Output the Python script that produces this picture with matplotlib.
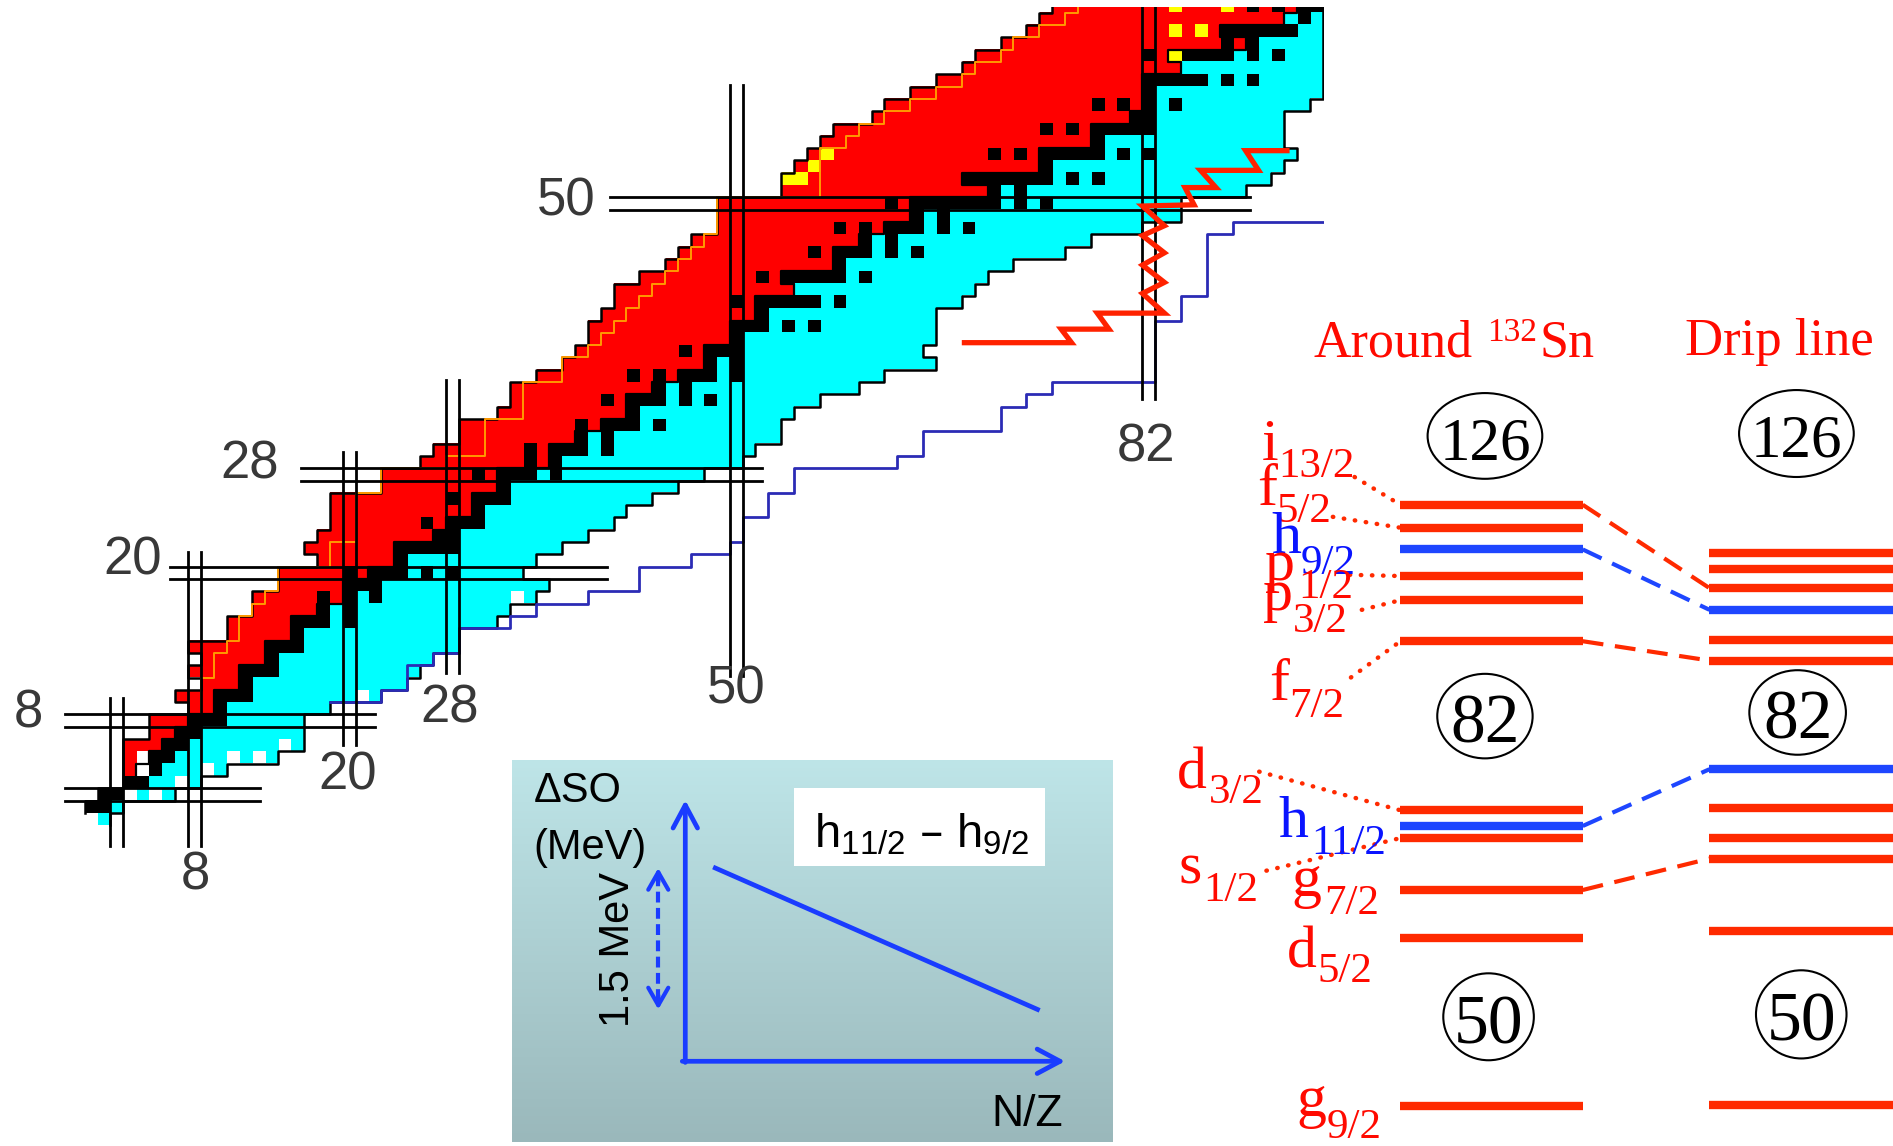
import numpy as np
import matplotlib
matplotlib.use("Agg")
import matplotlib.pyplot as plt
from matplotlib import font_manager
from matplotlib.colors import LinearSegmentedColormap, to_rgb
from matplotlib.patches import Ellipse, Rectangle

# ---------------- chart of nuclides, one entry per Z = 0..66 ----------------
n_first = [1, 0, 1, 3, 3, 3, 3, 5, 5, 8, 7, 9, 8, 9, 8, 11, 11, 13, 13, 15,
           15, 18, 17, 18, 19, 19, 19, 23, 23, 26, 27, 29, 29, 32, 33, 33, 35, 37, 38, 39,
           39, 40, 41, 41, 43, 45, 46, 47, 49, 49, 49, 54, 54, 55, 56, 57, 58, 61, 62, 64,
           66, 68, 69, 71, 73, 74, 75]
n_last = [1, 2, 6, 8, 10, 14, 16, 16, 16, 18, 22, 24, 25, 26, 28, 28, 31, 32, 34, 35,
          33, 34, 36, 38, 40, 41, 43, 45, 47, 50, 51, 53, 53, 54, 56, 59, 61, 65, 64, 65,
          65, 65, 67, 68, 69, 71, 75, 77, 81, 84, 84, 89, 91, 92, 93, 92, 92, 92, 94, 95,
          95, 95, 95, 95, 95, 95, 95]
red_last = [-1, -1, -1, 2, 3, 4, 5, 6, 7, 9, 9, 11, 11, 13, 13, 15, 15, 17, 19, 19,
            21, 23, 23, 26, 27, 29, 29, 31, 31, 35, 35, 37, 39, 41, 41, 43, 45, 47, 47, 49,
            49, 51, 51, 54, 53, 57, 57, 59, 61, 63, 63, 69, 67, 73, 73, 77, 77, 80, 81, 81,
            81, 84, 83, 89, 87, 92, 93]
stable_n = [[], [0, 1], [1, 2], [3, 4], [5], [5, 6], [6, 7], [7, 8], [8, 9, 10], [10],
            [10, 11, 12], [12], [12, 13, 14], [14], [14, 15, 16], [16], [16, 17, 18, 20],
            [18, 20], [18, 20, 22], [20, 21, 22], [20, 22, 23, 24, 26, 28], [24],
            [24, 25, 26, 27, 28], [27, 28], [26, 28, 29, 30], [30], [28, 30, 31, 32], [32],
            [30, 32, 33, 34, 36], [34, 36], [34, 36, 37, 38, 40], [38, 40],
            [38, 40, 41, 42, 44], [42], [40, 42, 43, 44, 46, 48], [44, 46],
            [42, 44, 46, 47, 48, 50], [48, 50], [46, 48, 49, 50], [50],
            [50, 51, 52, 54, 56], [52], [50, 52, 53, 54, 55, 56, 58], [],
            [52, 54, 55, 56, 57, 58, 60], [58], [56, 58, 59, 60, 62, 64], [60, 62],
            [58, 60, 62, 63, 64, 66, 68], [64, 66], [62, 64, 65, 66, 67, 68, 69, 70, 72, 74],
            [70, 72], [68, 69, 70, 71, 72, 73, 74, 76, 78], [74],
            [70, 72, 74, 75, 76, 77, 78, 80, 82], [78], [74, 76, 78, 79, 80, 81, 82],
            [81, 82], [78, 80, 82, 84], [82], [82, 83, 84, 85, 86, 88, 90], [],
            [82, 85, 86, 87, 88, 90, 92], [88, 90], [88, 89, 90, 91, 92, 93, 96], [94],
            [90, 92, 94, 95, 96, 97, 98]]
hole_n = [3, 5, 7, 4, 9, 4, 11, 13, 15, 21, 33]
hole_z = [2, 2, 3, 4, 4, 5, 5, 5, 6, 10, 18]
alpha_n = [54, 55, 56, 57, 84, 84, 86, 84, 88]
alpha_z = [52, 52, 53, 54, 62, 64, 64, 66, 66]

# proton drip line (first bound N), Z = 9..66
pdrip_z0 = 9
pdrip_n = [9, 9, 9, 10, 10, 11, 12, 12, 13, 14, 15, 15, 19, 19, 21, 21, 21, 21, 23, 23,
           28, 31, 31, 31, 34, 34, 34, 37, 37, 39, 40, 41, 42, 43, 44, 45, 46, 47, 48, 49,
           49, 49, 57, 57, 57, 57, 59, 60, 62, 64, 66, 68, 69, 71, 72, 74, 76, 77]
# neutron drip line (last bound N), Z = 10..48
ndrip_z0 = 10
ndrip_start = 18.5
ndrip_n = [22, 24, 24, 26, 28, 28, 32, 34, 38, 42, 42, 46, 49, 50, 50, 52, 52, 54, 54,
           62, 64, 64, 70, 70, 72, 74, 82, 82, 82, 82, 82, 84, 84, 86, 86, 86, 86, 86, 88]

# hand-drawn zigzag path (N, Z)
zig_n = [67.7, 76.0, 75.2, 78.9, 78.0, 83.2, 81.5, 83.2, 81.5, 83.2, 81.5, 83.2, 81.5,
         85.5, 84.8, 87.2, 86.0, 90.5, 89.5, 92.7]
zig_z = [38.7, 38.7, 39.8, 39.8, 41.1, 41.1, 42.7, 43.6, 45.0, 46.0, 47.4, 48.2, 49.8,
         49.9, 51.3, 51.3, 52.7, 52.7, 54.3, 54.3]

# magic numbers
magic_h_z = [2, 8, 20, 28, 50]
magic_h_from = [-2.0, -2.0, 6.1, 16.3, 40.2]
magic_h_to = [13.1, 22.0, 40.0, 52.0, 89.8]
magic_v_n = [2, 8, 20, 28, 50, 82]
magic_v_from = [-2.2, -2.2, 6.0, 11.9, 11.6, 34.1]
magic_v_to = [9.8, 21.7, 29.8, 35.7, 59.6, 67.0]
magic_text = ['8', '20', '28', '50', '8', '20', '28', '50', '82']
magic_text_n = [-4.9, 3.2, 12.3, 36.8, 8.1, 19.9, 27.8, 50.0, 81.8]
magic_text_z = [8.6, 21.0, 28.8, 50.2, -4.6, 3.5, 9.0, 10.5, 30.2]

# ---------------- single-particle levels ----------------
orb_letter = ['i', 'f', 'h', 'p', 'p', 'f', 'd', 'h', 's', 'g', 'd', 'g']
orb_sub = ['13/2', '5/2', '9/2', '1/2', '3/2', '7/2', '3/2', '11/2', '1/2', '7/2', '5/2', '9/2']
sn_level = [418, 437, 455, 477, 497, 531, 671, 684, 694, 737, 777, 916]
drip_level = [458, 471, 487, 505, 530, 547, 637, 669, 694, 711, 771, 915]
sn_blue = [2, 7]
drip_blue = [3, 6]
links = [(0, 2), (2, 3), (5, 5), (7, 6), (9, 9)]
letter_x = [1045, 1041, 1053, 1048, 1046, 1051, 975, 1059, 976, 1070, 1066, 1074]
letter_y = [381, 418, 458, 480, 505, 580, 653, 693, 732, 742, 801, 924]
sub_x = [1059, 1057, 1077, 1075, 1071, 1068, 1001, 1086, 997, 1097, 1091, 1099]
sub_y = [395, 432, 475, 495, 523, 594, 665, 707, 746, 757, 813, 942]
leader_idx = [0, 1, 3, 4, 5, 6, 8]
leader_x = [1122, 1104, 1118, 1128, 1119, 1043, 1049]
leader_y = [395, 428, 476, 505, 561, 639, 721]
shell_gap = ['126', '126', '82', '82', '50', '50']
gap_x = [1230, 1488, 1230, 1489, 1233, 1492]
gap_y = [361, 359, 593, 590, 842, 840]
gap_w = [95, 95, 79, 80, 75, 75]
gap_h = [71, 72, 70, 70, 72, 73]
gap_size = [44, 44, 50, 50, 50, 50]

# inset: spin-orbit splitting against N/Z
nz_trend = [0.339, 0.876]
dso_trend = [2.05, 0.55]

RED, CYAN, BLACK, YELLOW, WHITE = [np.array(to_rgb(c)) for c in
                                    ('#ff0000', '#00ffff', '#000000', '#ffff00', '#ffffff')]
LV_RED, LV_BLUE = '#ff2a00', '#1e46ff'
TXT_RED, TXT_BLUE = '#ff0a00', '#0a14ff'
INSET_BLUE = '#1a3cff'

names = {f.name for f in font_manager.fontManager.ttflist}
chart_font = 'Liberation Sans Narrow' if 'Liberation Sans Narrow' in names else 'Liberation Sans'
serif = 'Liberation Serif'
sans = 'Liberation Sans'
plt.rcParams['mathtext.default'] = 'regular'

fig = plt.figure(figsize=(18.93, 11.46), dpi=100)
fig.patch.set_facecolor('white')

# chart axes: data units are N (x) and Z (y)
ax = fig.add_axes([0, 0, 1, 1])
ax.set_xlim(8 - 194.3 / 12.9, 8 + (1893 - 194.3) / 12.9)
ax.set_ylim(8 - (1146 - 720.6) / 12.31, 8 + 720.6 / 12.31)
ax.axis('off')
clip = Rectangle((-10, -10), 105.6, 76.0, transform=ax.transData, facecolor='none')

grid = np.ones((len(n_first), 96, 3))
for z, (lo, hi, rl) in enumerate(zip(n_first, n_last, red_last)):
    for n in range(lo, hi + 1):
        grid[z, n] = RED if n <= rl else CYAN
    for n in stable_n[z]:
        if n < 96:
            grid[z, n] = BLACK
for n, z in zip(hole_n, hole_z):
    grid[z, n] = WHITE
for n, z in zip(alpha_n, alpha_z):
    grid[z, n] = YELLOW
im = ax.imshow(grid, origin='lower', extent=(-0.5, 95.5, -0.5, len(n_first) - 0.5),
               interpolation='nearest', aspect='auto', zorder=1)
im.set_clip_path(clip)


def staircase(z0, edges):
    xs, ys = [], []
    for i, e in enumerate(edges):
        xs += [e, e]
        ys += [z0 + i - 0.5, z0 + i + 0.5]
    return xs, ys


lines = []
xs, ys = staircase(1, [n - 0.5 for n in n_first[1:]])
lines += ax.plot(xs, ys, color='black', lw=1.8, zorder=3)
xs, ys = staircase(0, [n + 0.5 for n in n_last])
lines += ax.plot(xs, ys, color='black', lw=1.8, zorder=3)
rz = [z for z in range(len(red_last)) if red_last[z] >= n_first[z]]
xs, ys = staircase(rz[0], [red_last[z] + 0.5 for z in rz])
lines += ax.plot(xs, ys, color='black', lw=1.6, zorder=3)
xs, ys = staircase(pdrip_z0, [n - 0.5 for n in pdrip_n])
lines += ax.plot(xs, ys, color='#ff9a00', lw=1.4, zorder=3)
xs, ys = staircase(ndrip_z0, [n + 0.5 for n in ndrip_n])
xs = [ndrip_start] + xs + [95.6]
ys = [ys[0]] + ys + [ys[-1]]
lines += ax.plot(xs, ys, color='#2b2bb5', lw=2.0, zorder=3)
for ln in lines:
    ln.set_clip_path(clip)

for z, a, b in zip(magic_h_z, magic_h_from, magic_h_to):
    for dz in (-0.5, 0.5):
        ax.plot([a, b], [z + dz, z + dz], color='black', lw=2.0, zorder=4)
for n, a, b in zip(magic_v_n, magic_v_from, magic_v_to):
    for dn in (-0.5, 0.5):
        ln, = ax.plot([n + dn, n + dn], [a, b], color='black', lw=2.0, zorder=4)
        ln.set_clip_path(clip)
for t, n, z in zip(magic_text, magic_text_n, magic_text_z):
    ax.text(n, z, t, ha='center', va='center', fontsize=38, color='#383838',
            family=chart_font, zorder=5)

ax.plot(zig_n, zig_z, color='#ff2200', lw=3.8, zorder=6, solid_joinstyle='miter')

# level scheme overlay, coordinates on the panel grid
ax2 = fig.add_axes([0, 0, 1, 1])
ax2.patch.set_alpha(0)
ax2.set_xlim(0, 1568)
ax2.set_ylim(949, 0)
ax2.axis('off')

sn_cols = [LV_BLUE if i in sn_blue else LV_RED for i in range(len(sn_level))]
drip_cols = [LV_BLUE if i in drip_blue else LV_RED for i in range(len(drip_level))]
ax2.hlines(sn_level, 1160, 1311, colors=sn_cols, lw=6, zorder=3)
ax2.hlines(drip_level, 1416, 1568, colors=drip_cols, lw=6, zorder=3)
for a, b in links:
    ax2.plot([1311, 1416], [sn_level[a], drip_level[b]], color=sn_cols[a], lw=3,
             linestyle=(0, (5, 2.8)), zorder=2)
for k, i in enumerate(leader_idx):
    ax2.plot([leader_x[k], 1160], [leader_y[k], sn_level[i]], color=LV_RED, lw=3.2,
             linestyle=(0, (0.1, 2.4)), dash_capstyle='round', zorder=2)
for i in range(len(orb_letter)):
    c = TXT_BLUE if i in sn_blue else TXT_RED
    ax2.text(letter_x[i], letter_y[i], orb_letter[i], fontsize=43, family=serif,
             color=c, ha='left', va='baseline', zorder=4)
    ax2.text(sub_x[i], sub_y[i], orb_sub[i], fontsize=31, family=serif,
             color=c, ha='left', va='baseline', zorder=4)

for t, x, y, w, h, s in zip(shell_gap, gap_x, gap_y, gap_w, gap_h, gap_size):
    ax2.add_patch(Ellipse((x, y), w, h, facecolor='white', edgecolor='black', lw=1.5, zorder=3))
    ax2.text(x, y + 0.56 * s * 0.676 * 100 / 72 / 1.207, t, fontsize=s, family=serif,
             ha='center', va='baseline', color='black', zorder=4)

ax2.text(1088, 295.5, 'Around', fontsize=37.5, family=serif, color=TXT_RED,
         ha='left', va='baseline')
ax2.text(1232, 282, '132', fontsize=24, family=serif, color=TXT_RED,
         ha='left', va='baseline')
ax2.text(1275, 295.5, 'Sn', fontsize=37.5, family=serif, color=TXT_RED,
         ha='left', va='baseline')
ax2.text(1396, 294, 'Drip line', fontsize=38, family=serif, color=TXT_RED,
         ha='left', va='baseline')

# inset
axi = fig.add_axes([424 / 1568, 3 / 949, 497 / 1568, 317 / 949])
axi.set_xlim(0, 1)
axi.set_ylim(-0.86, 3.2)
axi.axis('off')
bg = LinearSegmentedColormap.from_list('bg', ['#9ab8bb', '#bee5e8'])
axi.imshow(np.linspace(0, 1, 256)[:, None], extent=(0, 1, -0.86, 3.2), origin='lower',
           aspect='auto', cmap=bg, zorder=0)
axi.add_patch(Rectangle((0.471, 2.07), 0.418, 0.83, facecolor='white', edgecolor='none', zorder=1))
arrow = dict(arrowstyle='->,head_length=0.75,head_width=0.4', color=INSET_BLUE, lw=3.4,
             shrinkA=0, shrinkB=0, mutation_scale=22)
axi.annotate('', xy=(0.289, 2.77), xytext=(0.289, -0.012), arrowprops=arrow, zorder=3)
axi.annotate('', xy=(0.922, 0.0), xytext=(0.284, 0.0), arrowprops=arrow, zorder=3)
axi.plot(nz_trend, dso_trend, color=INSET_BLUE, lw=3.4, zorder=3)
axi.plot([0.244, 0.244], [dso_trend[1] + 0.1, dso_trend[0] - 0.1], color=INSET_BLUE,
         lw=3.0, linestyle=(0, (2.6, 1.3)), zorder=3)
small = dict(arrowstyle='->,head_length=0.7,head_width=0.4', color=INSET_BLUE, lw=3.0,
             shrinkA=0, shrinkB=0, mutation_scale=18)
axi.annotate('', xy=(0.244, dso_trend[0]), xytext=(0.244, dso_trend[0] - 0.15), arrowprops=small)
axi.annotate('', xy=(0.244, dso_trend[1]), xytext=(0.244, dso_trend[1] + 0.15), arrowprops=small)
axi.text(0.036, 2.755, '\u0394SO', fontsize=30, family=sans, ha='left', va='baseline')
axi.text(0.036, 2.15, '(MeV)', fontsize=30, family=sans, ha='left', va='baseline')
axi.text(0.919, -0.69, 'N/Z', fontsize=32, family=sans, ha='right', va='baseline')
axi.text(0.177, 1.19, '1.5 MeV', fontsize=30, family=sans, rotation=90,
         ha='center', va='center')
axi.text(0.504, 2.27, '$h_{11/2}$ \u2013 $h_{9/2}$',
         fontsize=34, family=sans, ha='left', va='baseline', zorder=2)

fig.savefig('out.png', dpi=100, facecolor='white')
